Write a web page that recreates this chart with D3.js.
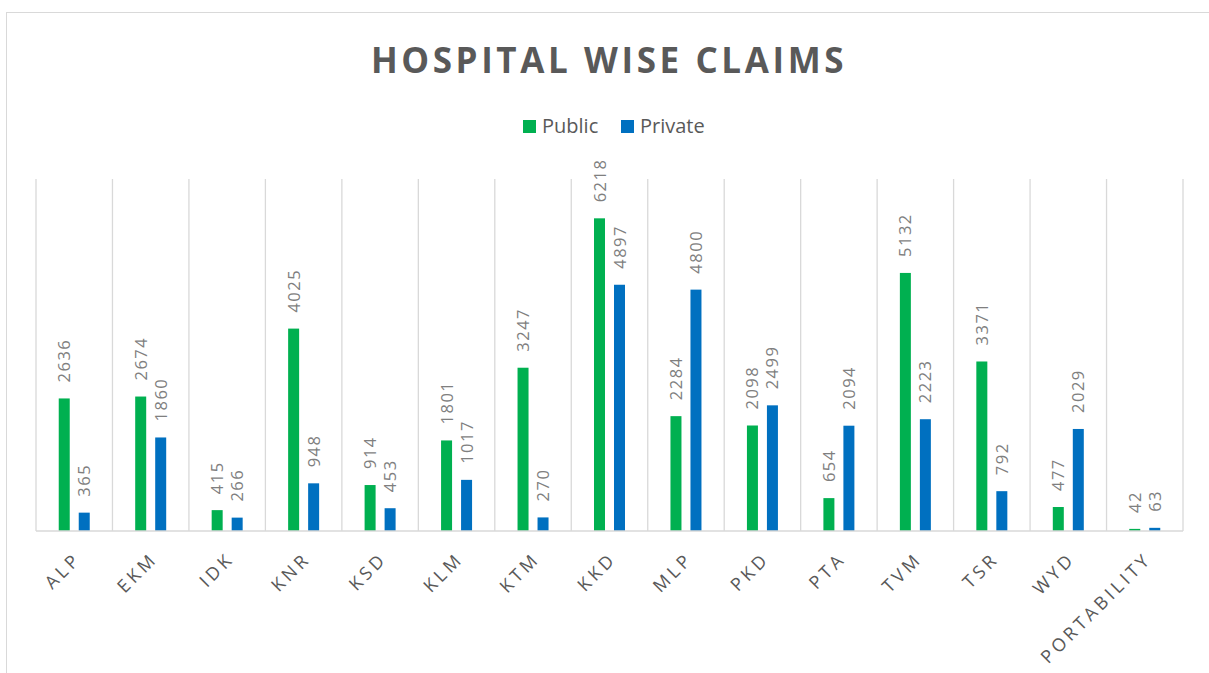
<!DOCTYPE html>
<html>
<head>
<meta charset="utf-8">
<script src="https://cdn.jsdelivr.net/npm/d3@7"></script>
<style>
  body { margin: 0; background: #fff; }
  text { font-family: "Open Sans", sans-serif; }
</style>
</head>
<body>
<div id="chart"></div>
<script>
var categories = ["ALP", "EKM", "IDK", "KNR", "KSD", "KLM", "KTM", "KKD", "MLP", "PKD", "PTA", "TVM", "TSR", "WYD", "PORTABILITY"];
var publicClaims = [2636, 2674, 415, 4025, 914, 1801, 3247, 6218, 2284, 2098, 654, 5132, 3371, 477, 42];
var privateClaims = [365, 1860, 266, 948, 453, 1017, 270, 4897, 4800, 2499, 2094, 2223, 792, 2029, 63];
var seriesNames = ["Public", "Private"];
var colors = {Public: "#00b050", Private: "#0070c0"};

var width = 1209, height = 673;

var svg = d3.select("#chart")
  .append("svg")
    .attr("width", width)
    .attr("height", height);

// chart area border
svg.append("rect")
  .attr("x", 6.5).attr("y", 12.5)
  .attr("width", 1300).attr("height", 700)
  .attr("fill", "none")
  .attr("stroke", "#d9d9d9");

// title
svg.append("text")
  .attr("x", 609).attr("y", 73)
  .attr("text-anchor", "middle")
  .style("font-size", "35px")
  .style("font-weight", "bold")
  .style("letter-spacing", "3.6px")
  .attr("fill", "#595959")
  .text("HOSPITAL WISE CLAIMS");

// legend
var legendX = [523, 621];
seriesNames.forEach(function (s, i) {
  svg.append("rect")
    .attr("x", legendX[i]).attr("y", 120)
    .attr("width", 13).attr("height", 13)
    .attr("fill", colors[s]);
  svg.append("text")
    .attr("x", legendX[i] + 19).attr("y", 133)
    .style("font-size", "20px")
    .attr("fill", "#595959")
    .text(s);
});

var x = d3.scaleBand()
  .domain(categories)
  .range([36, 1183]);

var x1 = d3.scaleBand()
  .domain(seriesNames)
  .range([x.bandwidth() / 2 - 15.5, x.bandwidth() / 2 + 15.5])
  .paddingInner(0.45);

var y = d3.scaleLinear()
  .domain([0, 7000])
  .range([531, 179]);

// vertical gridlines at category edges
var gridX = categories.map(function (d) { return x(d); }).concat([x.range()[1]]);
svg.append("g")
  .selectAll("line")
  .data(gridX)
  .enter()
  .append("line")
    .attr("x1", function (d) { return d; })
    .attr("x2", function (d) { return d; })
    .attr("y1", y(7000))
    .attr("y2", y(0))
    .attr("stroke", "#d9d9d9")
    .attr("stroke-width", 1.3);

var rows = categories.map(function (c, i) {
  return {cat: c, Public: publicClaims[i], Private: privateClaims[i]};
});

var groups = svg.selectAll(".cat")
  .data(rows)
  .enter()
  .append("g")
    .attr("class", "cat")
    .attr("transform", function (d) { return "translate(" + x(d.cat) + ",0)"; });

groups.selectAll("rect")
  .data(function (d) { return seriesNames.map(function (s) { return {key: s, value: d[s]}; }); })
  .enter()
  .append("rect")
    .attr("x", function (d) { return x1(d.key); })
    .attr("y", function (d) { return y(d.value); })
    .attr("width", x1.bandwidth())
    .attr("height", function (d) { return y(0) - y(d.value); })
    .attr("fill", function (d) { return colors[d.key]; });

groups.selectAll(".val")
  .data(function (d) { return seriesNames.map(function (s) { return {key: s, value: d[s]}; }); })
  .enter()
  .append("text")
    .attr("class", "val")
    .attr("transform", function (d) {
      return "translate(" + (x1(d.key) + x1.bandwidth() / 2 + 6) + "," + (y(d.value) - 16) + ") rotate(-90)";
    })
    .style("font-size", "16.5px")
    .style("letter-spacing", "1.5px")
    .attr("fill", "#7f7f7f")
    .text(function (d) { return d.value; });

// x axis line
svg.append("line")
  .attr("x1", 36).attr("x2", 1183)
  .attr("y1", y(0)).attr("y2", y(0))
  .attr("stroke", "#d9d9d9")
  .attr("stroke-width", 1.5);

// x labels
svg.append("g")
  .selectAll("text")
  .data(categories)
  .enter()
  .append("text")
    .attr("transform", function (d) {
      return "translate(" + (x(d) + x.bandwidth() / 2 + 8) + ",560) rotate(-45)";
    })
    .attr("text-anchor", "end")
    .style("font-size", "18px")
    .style("letter-spacing", "3.6px")
    .attr("fill", "#595959")
    .text(function (d) { return d; });
</script>
</body>
</html>
